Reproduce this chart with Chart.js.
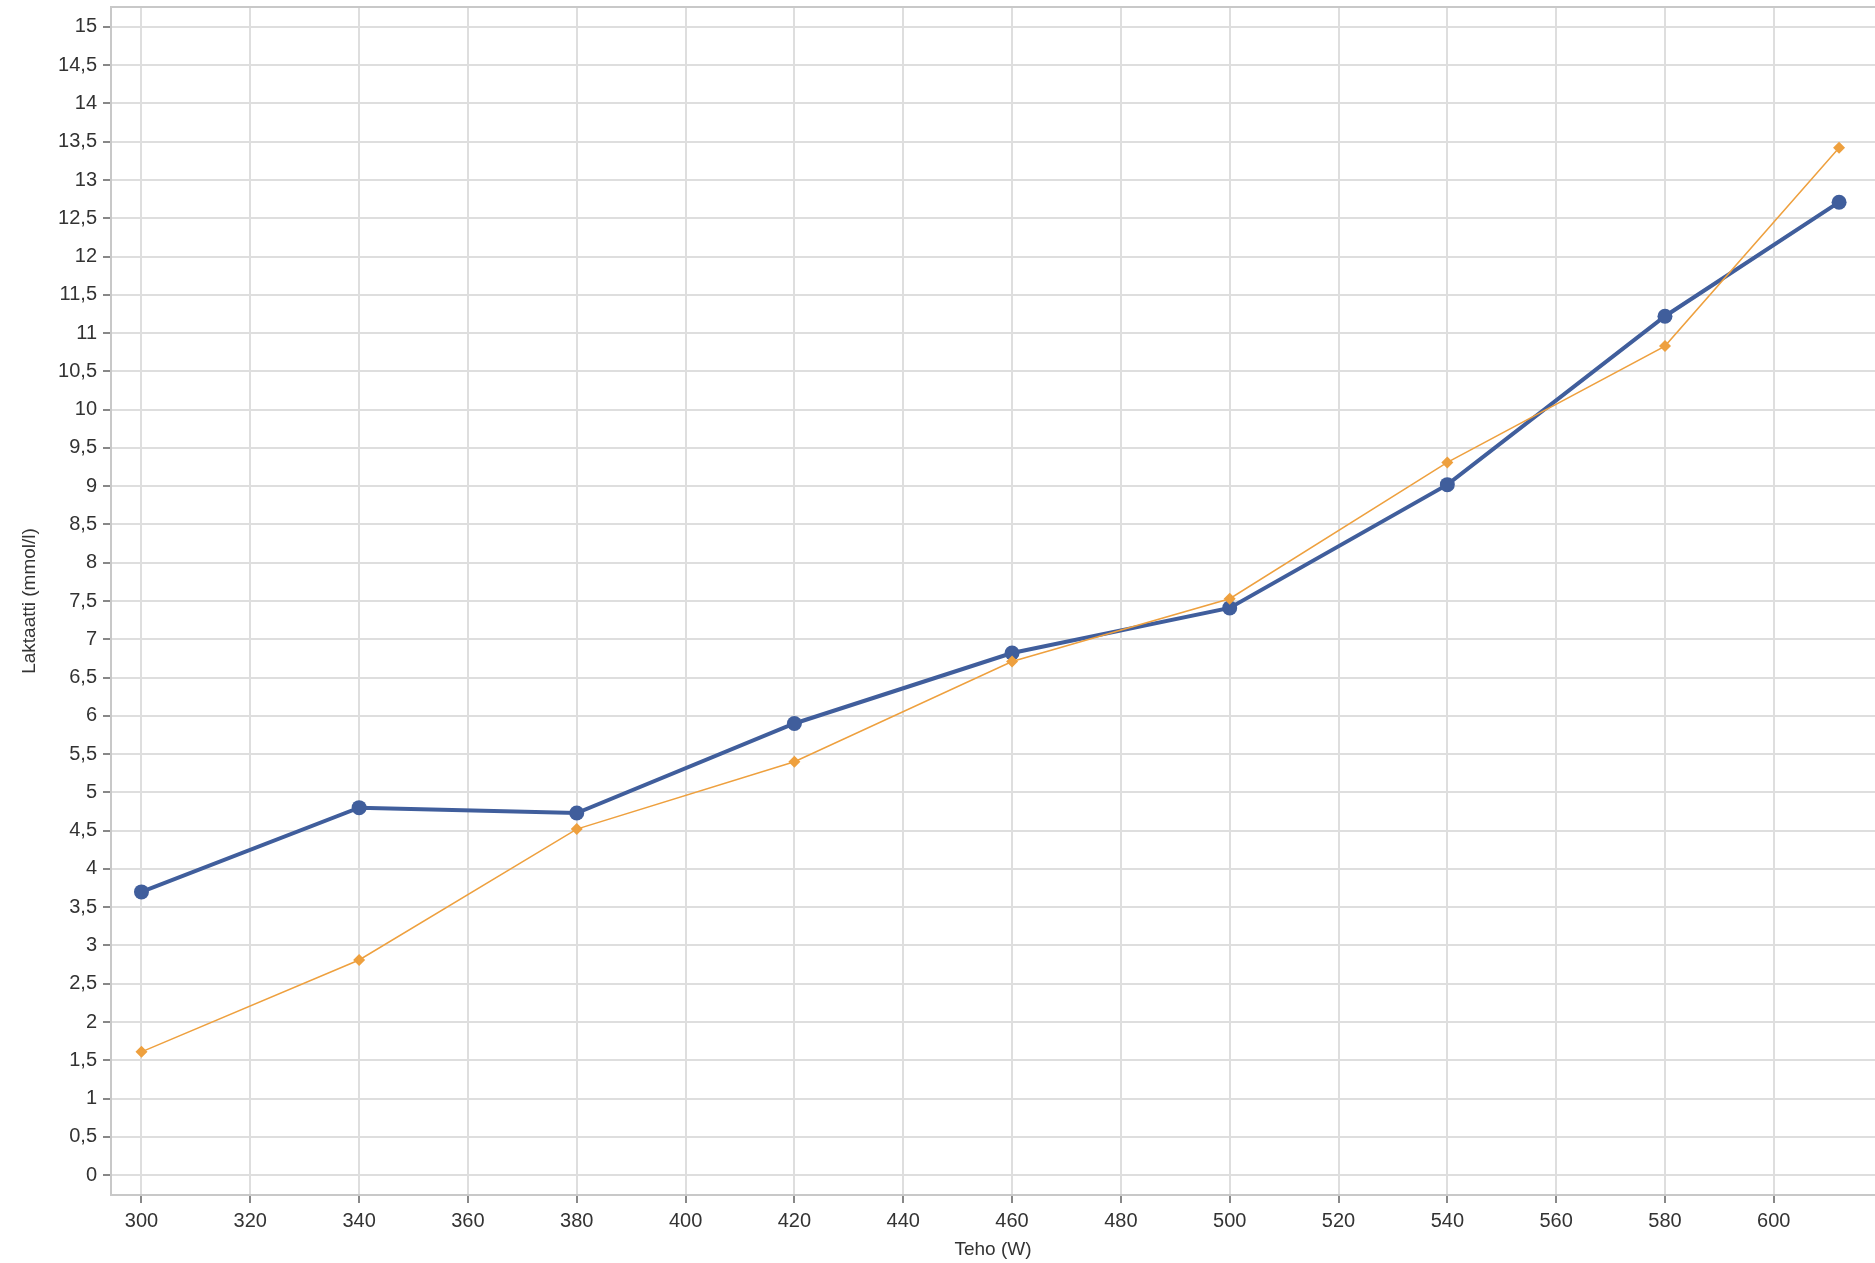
<!DOCTYPE html>
<html>
<head>
<meta charset="utf-8">
<script src="https://cdn.jsdelivr.net/npm/chart.js@4/dist/chart.umd.min.js"></script>
<style>
    html, body { margin: 0; padding: 0; background: #fff; overflow: hidden; }
    canvas { display: block; }
</style>
</head>
<body>
<canvas id="lactate_chart" width="1875" height="1263"></canvas>
<script>
// Power steps (W) and lactate readings (mmol/l)
const teho = [300, 340, 380, 420, 460, 500, 540, 580, 612];
const laktaattiSininen = [3.70, 4.80, 4.73, 5.90, 6.82, 7.41, 9.02, 11.22, 12.71];
const laktaattiOranssi = [1.61, 2.81, 4.52, 5.40, 6.71, 7.53, 9.31, 10.83, 13.42];

const FONT = 'Liberation Sans, Arial, sans-serif';

// Top border of the plot area
const topBorder = {
    id: 'topBorder',
    afterDraw(chart) {
        const { ctx, chartArea } = chart;
        ctx.save();
        ctx.strokeStyle = '#c8c8c8';
        ctx.lineWidth = 2;
        ctx.beginPath();
        ctx.moveTo(chartArea.left, chartArea.top);
        ctx.lineTo(chartArea.right, chartArea.top);
        ctx.stroke();
        ctx.restore();
    }
};

document.addEventListener('DOMContentLoaded', function () {
    const chartElement = document.getElementById('lactate_chart');

    const toPoints = (ys) => teho.map((x, i) => ({ x: x, y: ys[i] }));

    new Chart(chartElement, {
        type: 'line',
        data: {
            datasets: [
                {
                    label: 'Oranssi',
                    data: toPoints(laktaattiOranssi),
                    borderColor: 'rgba(238, 160, 62, 1)',
                    backgroundColor: 'rgba(238, 160, 62, 1)',
                    borderWidth: 1.5,
                    pointStyle: 'rectRot',
                    pointRadius: 6,
                    pointBorderWidth: 0,
                    tension: 0,
                },
                {
                    label: 'Sininen',
                    data: toPoints(laktaattiSininen),
                    borderColor: 'rgba(64, 94, 156, 1)',
                    backgroundColor: 'rgba(64, 94, 156, 1)',
                    borderWidth: 4,
                    pointStyle: 'circle',
                    pointRadius: 7.5,
                    pointBorderWidth: 0,
                    tension: 0,
                },
            ],
        },
        options: {
            responsive: false,
            animation: false,
            layout: { autoPadding: false, padding: { top: 7, right: 0, bottom: 0, left: 0 } },
            plugins: {
                legend: { display: false },
                tooltip: { enabled: false },
            },
            scales: {
                x: {
                    type: 'linear',
                    min: 294.4,
                    max: 618.6,
                    afterFit: (scale) => {
                        scale.height = 68;
                        scale.paddingLeft = 0;
                        scale.paddingRight = 0;
                    },
                    ticks: {
                        stepSize: 20,
                        includeBounds: false,
                        maxRotation: 0,
                        autoSkip: false,
                        padding: 6,
                        color: '#333',
                        font: { family: FONT, size: 20 },
                    },
                    grid: {
                        color: '#dedede',
                        lineWidth: 2,
                        tickLength: 8,
                        tickColor: '#888',
                    },
                    border: { color: '#c8c8c8', width: 2 },
                    title: {
                        display: true,
                        text: 'Teho (W)',
                        color: '#333',
                        padding: { top: 0, bottom: 2 },
                        font: { family: FONT, size: 19 },
                    },
                },
                y: {
                    type: 'linear',
                    min: -0.26,
                    max: 15.26,
                    afterFit: (scale) => {
                        scale.width = 111;
                        scale.paddingTop = 0;
                        scale.paddingBottom = 0;
                    },
                    ticks: {
                        stepSize: 0.5,
                        includeBounds: false,
                        autoSkip: false,
                        padding: 6,
                        color: '#333',
                        font: { family: FONT, size: 20 },
                        callback: (v) => String(Math.round(v * 10) / 10).replace('.', ','),
                    },
                    grid: {
                        color: '#dedede',
                        lineWidth: 2,
                        tickLength: 8,
                        tickColor: '#888',
                    },
                    border: { color: '#c8c8c8', width: 2 },
                    title: {
                        display: true,
                        text: 'Laktaatti (mmol/l)',
                        color: '#333',
                        padding: { top: 18, bottom: 0 },
                        font: { family: FONT, size: 19 },
                    },
                },
            },
        },
        plugins: [topBorder],
    });
});
</script>
</body>
</html>
